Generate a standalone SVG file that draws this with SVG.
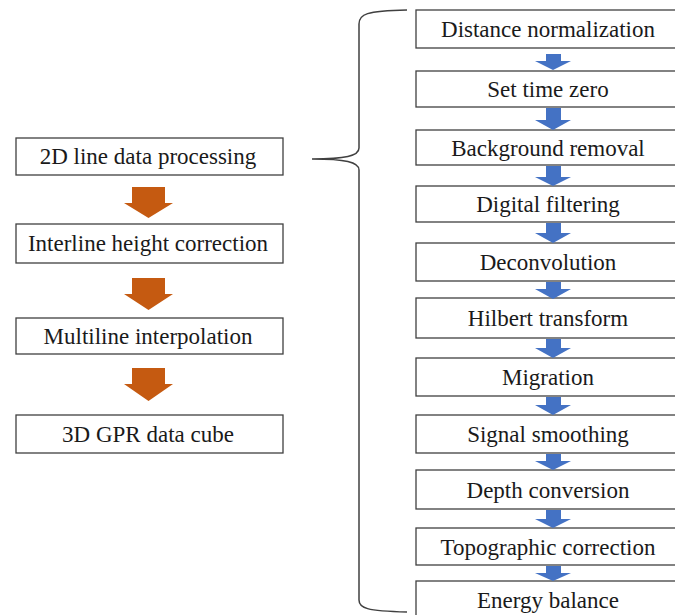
<svg xmlns="http://www.w3.org/2000/svg" width="675" height="615" viewBox="0 0 675 615">
<style>
.box{fill:#fff;stroke:#404040;stroke-width:1.3}
.t{font-size:23px;fill:#1a1a1a;text-anchor:middle}
.oa{fill:#C55A11}
.ba{fill:#4472C4}
.brace{fill:none;stroke:#404040;stroke-width:1.5}
</style>
<rect width="675" height="615" fill="#fff"/>
<g font-family="Liberation Serif, Times New Roman, serif">
<g id="left-nodes">
<g id="n-2d"><rect class="box" x="16" y="138" width="267" height="37"/><text class="t" x="148" y="164">2D line data processing</text></g>
<g id="n-interline"><rect class="box" x="16" y="224" width="267" height="39"/><text class="t" x="148" y="251">Interline height correction</text></g>
<g id="n-multiline"><rect class="box" x="16" y="318" width="267" height="36"/><text class="t" x="148" y="344">Multiline interpolation</text></g>
<g id="n-cube"><rect class="box" x="16" y="415" width="267" height="38"/><text class="t" x="148" y="442">3D GPR data cube</text></g>
</g>
<g id="right-nodes">
<g id="r1"><rect class="box" x="416" y="10" width="262" height="38"/><text class="t" x="548" y="37">Distance normalization</text></g>
<g id="r2"><rect class="box" x="416" y="71" width="262" height="36"/><text class="t" x="548" y="97">Set time zero</text></g>
<g id="r3"><rect class="box" x="416" y="130" width="262" height="35"/><text class="t" x="548" y="156">Background removal</text></g>
<g id="r4"><rect class="box" x="416" y="186" width="262" height="36"/><text class="t" x="548" y="212">Digital filtering</text></g>
<g id="r5"><rect class="box" x="416" y="243" width="262" height="38"/><text class="t" x="548" y="270">Deconvolution</text></g>
<g id="r6"><rect class="box" x="416" y="298" width="262" height="40"/><text class="t" x="548" y="326">Hilbert transform</text></g>
<g id="r7"><rect class="box" x="416" y="358" width="262" height="38"/><text class="t" x="548" y="385">Migration</text></g>
<g id="r8"><rect class="box" x="416" y="415" width="262" height="38"/><text class="t" x="548" y="442">Signal smoothing</text></g>
<g id="r9"><rect class="box" x="416" y="470" width="262" height="39"/><text class="t" x="548" y="498">Depth conversion</text></g>
<g id="r10"><rect class="box" x="416" y="528" width="262" height="37"/><text class="t" x="548" y="555">Topographic correction</text></g>
<g id="r11"><rect class="box" x="416" y="581" width="262" height="40"/><text class="t" x="548" y="608">Energy balance</text></g>
</g>
</g>
<g id="connectors">
<polygon class="oa" points="132,187 165,187 165,203 173,203 148.5,218 124,203 132,203"/>
<polygon class="oa" points="132,278 165,278 165,294 173,294 148.5,310 124,294 132,294"/>
<polygon class="oa" points="132,368 165,368 165,384 173,384 148.5,401 124,384 132,384"/>
<polygon class="ba" points="546,54 561,54 561,61 571,61 553,70 535,61 546,61"/>
<polygon class="ba" points="546,108 561,108 561,120 571,120 553,130 535,120 546,120"/>
<polygon class="ba" points="546,166 561,166 561,177 571,177 553,186 535,177 546,177"/>
<polygon class="ba" points="546,223 561,223 561,233 571,233 553,243 535,233 546,233"/>
<polygon class="ba" points="546,282 561,282 561,289 571,289 553,299 535,289 546,289"/>
<polygon class="ba" points="546,339 561,339 561,348 571,348 553,358 535,348 546,348"/>
<polygon class="ba" points="546,397 561,397 561,405 571,405 553,415 535,405 546,405"/>
<polygon class="ba" points="546,454 561,454 561,461 571,461 553,470 535,461 546,461"/>
<polygon class="ba" points="546,510 561,510 561,519 571,519 553,528 535,519 546,519"/>
<polygon class="ba" points="546,566 561,566 561,573 571,573 553,581 535,573 546,573"/>
<path class="brace" d="M407,10 C366,11 359,14 359,24 L359,148 C359,156 345,159 312,159 C345,159 359,162 359,170 L359,600 C359,608 366,611 407,612"/>
</g>
</svg>
